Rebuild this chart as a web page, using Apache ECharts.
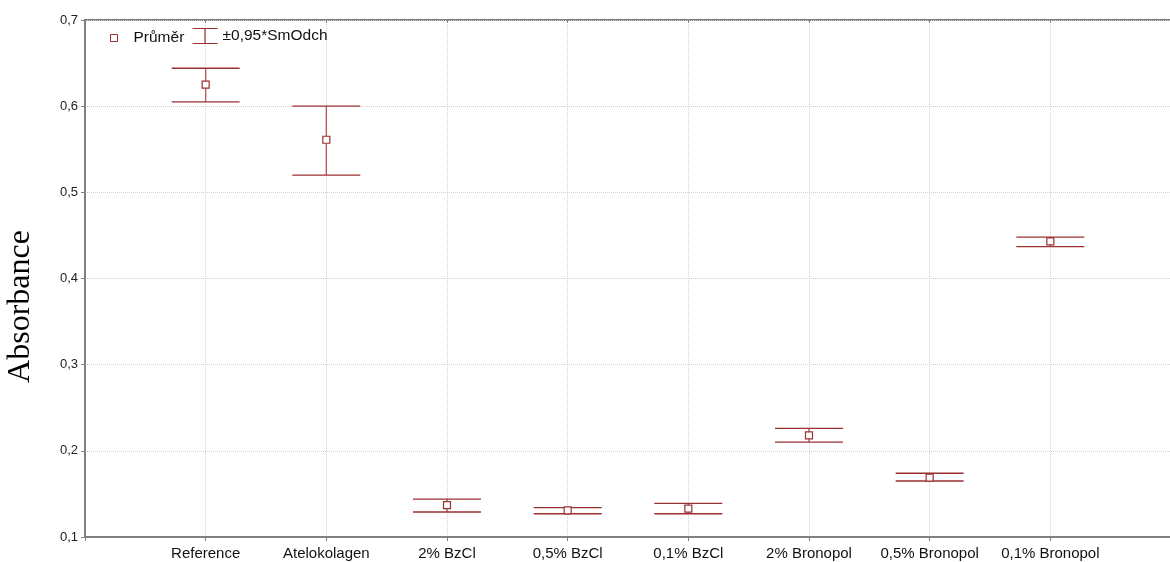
<!DOCTYPE html>
<html>
<head>
<meta charset="utf-8">
<script src="https://cdn.jsdelivr.net/npm/echarts@6/dist/echarts.min.js"></script>
<style>
  html, body { margin: 0; padding: 0; background: #fff; }
  #chart { width: 1170px; height: 562px; }
</style>
</head>
<body>
<div id="chart"></div>
<script>
// data
var categories = ['Reference', 'Atelokolagen', '2% BzCl', '0,5% BzCl', '0,1% BzCl', '2% Bronopol', '0,5% Bronopol', '0,1% Bronopol'];
var means = [0.625, 0.561, 0.137, 0.131, 0.133, 0.218, 0.169, 0.443];
var upper = [0.644, 0.600, 0.144, 0.134, 0.139, 0.226, 0.174, 0.448];
var lower = [0.605, 0.520, 0.129, 0.127, 0.127, 0.210, 0.165, 0.437];
var yTicks = [0.1, 0.2, 0.3, 0.4, 0.5, 0.6, 0.7];

var red = '#9b3033';
var capHalf = 34;

var meanData = means.map(function (v, i) { return [i + 1, v]; });
var errData = means.map(function (v, i) { return [i + 1, lower[i], upper[i]]; });

var myChart = echarts.init(document.getElementById('chart'));
var option = {
  animation: false,
  grid: {
    left: 85,
    top: 20,
    right: -1,
    bottom: 25,
    outerBoundsMode: 'none',
    containLabel: false,
    show: true,
    borderColor: '#808080',
    borderWidth: 2
  },
  legend: [
    {
      left: 105,
      top: 25,
      itemWidth: 7,
      itemHeight: 7,
      textStyle: { fontFamily: 'Liberation Sans', fontSize: 15.5, color: '#111', padding: [0, 0, 0, 11] },
      data: [{ name: 'Průměr', icon: 'rect', itemStyle: { color: '#fff', borderColor: red, borderWidth: 1 } }]
    },
    {
      left: 185,
      top: 21,
      itemWidth: 25,
      itemHeight: 15,
      textStyle: { fontFamily: 'Liberation Sans', fontSize: 15.5, color: '#111' },
      data: [{
        name: '±0,95*SmOdch',
        icon: 'path://M0,0L25,0M12.5,0L12.5,15M0,15L25,15',
        itemStyle: { color: 'none', borderColor: red, borderWidth: 1.2 }
      }]
    }
  ],
  xAxis: [
    {
      type: 'value',
      min: 0,
      max: 9,
      interval: 1,
      axisLine: { show: true, lineStyle: { color: '#808080', width: 2 } },
      axisTick: { show: true, length: 4, lineStyle: { color: '#808080' } },
      axisLabel: {
        margin: 9,
        fontFamily: 'Liberation Sans',
        fontSize: 15,
        color: '#111',
        formatter: function (v) { return categories[v - 1] || ''; }
      },
      splitLine: { show: true, lineStyle: { color: '#d6cdd6', type: 'dotted' } }
    },
    {
      type: 'value',
      position: 'top',
      min: 0,
      max: 9,
      interval: 1,
      axisLine: { show: false },
      axisTick: { show: true, inside: true, length: 3, lineStyle: { color: '#808080' } },
      axisLabel: { show: false },
      splitLine: { show: false }
    }
  ],
  yAxis: {
    type: 'value',
    min: 0.1,
    max: 0.7,
    interval: 0.1,
    name: 'Absorbance',
    nameLocation: 'middle',
    nameGap: 48,
    nameTextStyle: { fontFamily: 'Liberation Serif', fontSize: 32, color: '#000', padding: [0, 56, 0, 0] },
    axisLine: { show: true, lineStyle: { color: '#808080', width: 2 } },
    axisTick: { show: true, length: 4, lineStyle: { color: '#808080' } },
    axisLabel: {
      margin: 7,
      fontFamily: 'Liberation Sans',
      fontSize: 13,
      color: '#222',
      customValues: yTicks,
      formatter: function (v) { return v.toFixed(1).replace('.', ','); }
    },
    splitLine: { show: true, lineStyle: { color: '#cfcfcf', type: 'dotted' } }
  },
  series: [
    {
      name: '±0,95*SmOdch',
      type: 'custom',
      data: errData,
      z: 2,
      renderItem: function (params, api) {
        var x = api.value(0);
        var lo = api.coord([x, api.value(1)]);
        var hi = api.coord([x, api.value(2)]);
        var st = { stroke: red, lineWidth: 1.3 };
        return {
          type: 'group',
          children: [
            { type: 'line', shape: { x1: hi[0], y1: hi[1], x2: lo[0], y2: lo[1] }, style: { stroke: '#b45c5e', lineWidth: 1.4 } },
            { type: 'line', shape: { x1: hi[0] - capHalf, y1: hi[1], x2: hi[0] + capHalf, y2: hi[1] }, style: st },
            { type: 'line', shape: { x1: lo[0] - capHalf, y1: lo[1], x2: lo[0] + capHalf, y2: lo[1] }, style: st }
          ]
        };
      }
    },
    {
      name: 'Průměr',
      type: 'scatter',
      data: meanData,
      z: 3,
      symbol: 'rect',
      symbolSize: 7,
      itemStyle: { color: '#fff', borderColor: red, borderWidth: 1.2, opacity: 1 }
    }
  ]
};
myChart.setOption(option);
</script>
</body>
</html>
